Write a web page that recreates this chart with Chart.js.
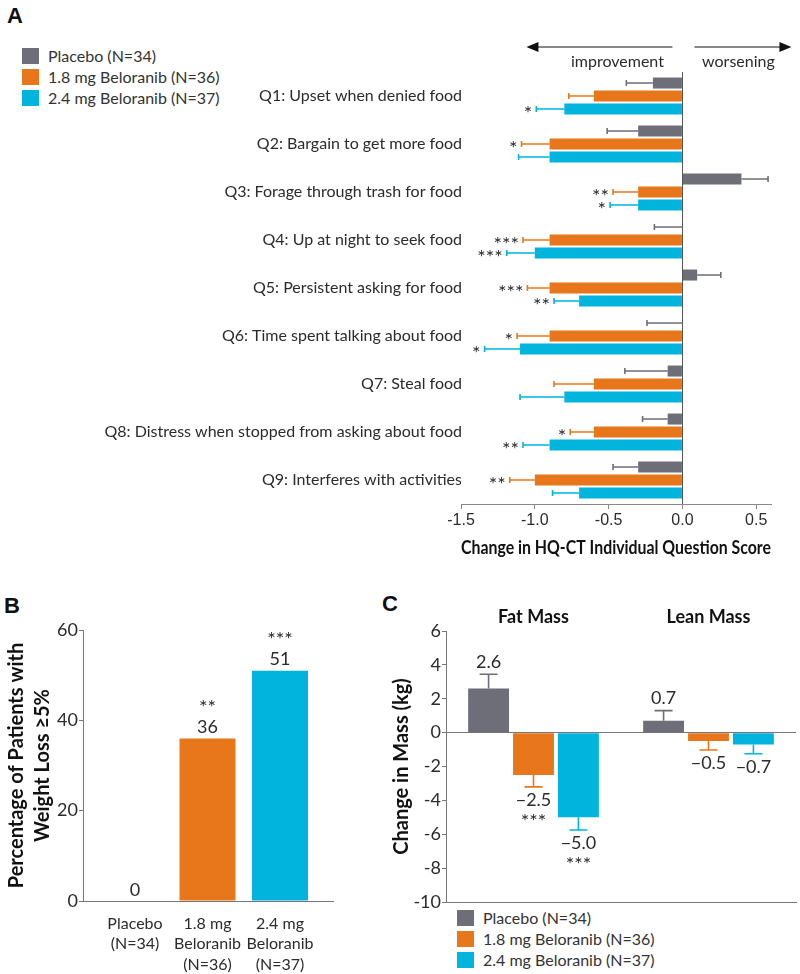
<!DOCTYPE html>
<html>
<head>
<meta charset="utf-8">
<script src="https://cdn.jsdelivr.net/npm/chart.js@4.4.0/dist/chart.umd.min.js"></script>
<style>
  body { margin: 0; background: #fff; font-family: Lato, sans-serif; color: #333; }
  #wrap { position: relative; width: 800px; height: 974px; overflow: hidden; }
  canvas { position: absolute; }
  .letter { position: absolute; font: bold 22px "Liberation Sans", Arial, sans-serif; color: #111; line-height: 22px; }
  .leg { position: absolute; font-size: 16px; color: #333; }
  .leg div { display: flex; align-items: center; height: 21px; }
  .leg span { display: inline-block; width: 17px; height: 16px; margin-right: 9px; }
</style>
</head>
<body>
<div id="wrap">
  <div class="letter" style="left:7px;top:5px">A</div>
  <div class="letter" style="left:4px;top:595px">B</div>
  <div class="letter" style="left:382px;top:593px">C</div>
  <div class="leg" id="legA" style="left:22px;top:45px"></div>
  <div class="leg" id="legC" style="left:457px;top:907px"></div>
  <canvas id="chartA" width="800" height="560" style="left:0;top:0"></canvas>
  <canvas id="chartB" width="370" height="414" style="left:0;top:560px"></canvas>
  <canvas id="chartC" width="430" height="414" style="left:370px;top:560px"></canvas>
</div>
<script>
// groups and colours
const groups = ['Placebo (N=34)', '1.8 mg Beloranib (N=36)', '2.4 mg Beloranib (N=37)'];
const colors = ['#6d6e77', '#e8771b', '#00b4de'];

// panel A - HQ-CT individual questions
const questions = [
  'Q1: Upset when denied food',
  'Q2: Bargain to get more food',
  'Q3: Forage through trash for food',
  'Q4: Up at night to seek food',
  'Q5: Persistent asking for food',
  'Q6: Time spent talking about food',
  'Q7: Steal food',
  'Q8: Distress when stopped from asking about food',
  'Q9: Interferes with activities'
];
const placeboQ = [-0.2, -0.3, 0.4, 0, 0.1, 0, -0.1, -0.1, -0.3];
const placeboQErr = [-0.38, -0.51, 0.58, -0.19, 0.26, -0.24, -0.39, -0.27, -0.47];
const placeboQStars = ['', '', '', '', '', '', '', '', ''];
const lowDoseQ = [-0.6, -0.9, -0.3, -0.9, -0.9, -0.9, -0.6, -0.6, -1.0];
const lowDoseQErr = [-0.77, -1.09, -0.47, -1.08, -1.05, -1.12, -0.87, -0.76, -1.17];
const lowDoseQStars = ['', '*', '**', '***', '***', '*', '', '*', '**'];
const highDoseQ = [-0.8, -0.9, -0.3, -1.0, -0.7, -1.1, -0.8, -0.9, -0.7];
const highDoseQErr = [-0.99, -1.11, -0.49, -1.19, -0.87, -1.34, -1.10, -1.08, -0.88];
const highDoseQStars = ['*', '', '*', '***', '**', '*', '', '**', ''];
const scoreTicks = [-1.5, -1.0, -0.5, 0, 0.5];

// panel B - weight loss >= 5%
const armLabels = [['Placebo', '(N=34)'], ['1.8 mg', 'Beloranib', '(N=36)'], ['2.4 mg', 'Beloranib', '(N=37)']];
const weightLossPct = [0, 36, 51];
const weightLossStars = ['', '**', '***'];
const pctTicks = [0, 20, 40, 60];

// panel C - fat and lean mass
const massTypes = ['Fat Mass', 'Lean Mass'];
const placeboMass = [2.6, 0.7];
const placeboMassErr = [3.45, 1.3];
const placeboMassStars = ['', ''];
const lowDoseMass = [-2.5, -0.5];
const lowDoseMassErr = [-3.2, -1.03];
const lowDoseMassStars = ['***', ''];
const highDoseMass = [-5.0, -0.7];
const highDoseMassErr = [-5.75, -1.25];
const highDoseMassStars = ['***', ''];
const massTicks = [6, 4, 2, 0, -2, -4, -6, -8, -10];

// legends
function legend(id) {
  document.getElementById(id).innerHTML = groups.map((g, i) =>
    '<div><span style="background:' + colors[i] + '"></span>' + g + '</div>').join('');
}
legend('legA');
legend('legC');

const txt = '#2b2b2b';
const fontTick = { family: 'Lato', size: 18 };
const starFont = '20px Lato';

// error bars plus value / star labels
const errorBars = {
  id: 'errorBars',
  afterDatasetsDraw(chart, args, opts) {
    const ctx = chart.ctx;
    const horiz = chart.options.indexAxis === 'y';
    const vScale = horiz ? chart.scales.x : chart.scales.y;
    chart.data.datasets.forEach((ds, di) => {
      if (!ds.errEnd) return;
      chart.getDatasetMeta(di).data.forEach((bar, i) => {
        const e = vScale.getPixelForValue(ds.errEnd[i]);
        ctx.save();
        ctx.strokeStyle = ds.backgroundColor;
        ctx.lineWidth = 1.6;
        ctx.beginPath();
        if (horiz) {
          ctx.moveTo(bar.x, bar.y); ctx.lineTo(e, bar.y);
          ctx.moveTo(e, bar.y - opts.cap); ctx.lineTo(e, bar.y + opts.cap);
        } else {
          ctx.moveTo(bar.x, bar.y); ctx.lineTo(bar.x, e);
          ctx.moveTo(bar.x - opts.cap, e); ctx.lineTo(bar.x + opts.cap, e);
        }
        ctx.stroke();
        ctx.fillStyle = txt;
        ctx.textBaseline = 'middle';
        const stars = ds.stars ? ds.stars[i] : '';
        if (horiz) {
          ctx.textAlign = 'right';
          ctx.font = starFont;
          if (stars) ctx.fillText(stars, e - 4, bar.y + 5);
        } else {
          const v = ds.data[i];
          const s = (v < 0 ? '\u2212' : '') + Math.abs(v).toFixed(1);
          ctx.textAlign = 'center';
          ctx.font = '18px Lato';
          if (v >= 0) {
            ctx.fillText(s, bar.x, e - 12);
          } else {
            ctx.fillText(s, bar.x, e + 13);
            ctx.font = starFont;
            if (stars) ctx.fillText(stars, bar.x, e + 35);
          }
        }
        ctx.restore();
      });
    });
  }
};

// improvement / worsening arrows
const arrows = {
  id: 'arrows',
  afterDraw(chart) {
    const ctx = chart.ctx;
    const z = chart.scales.x.getPixelForValue(0);
    const y = 47;
    ctx.save();
    ctx.strokeStyle = '#111';
    ctx.fillStyle = '#111';
    ctx.lineWidth = 1.2;
    ctx.beginPath();
    ctx.moveTo(z - 146, y); ctx.lineTo(z - 10, y);
    ctx.moveTo(z + 12, y); ctx.lineTo(z + 100, y);
    ctx.stroke();
    ctx.beginPath();
    ctx.moveTo(z - 156, y); ctx.lineTo(z - 144, y - 5); ctx.lineTo(z - 144, y + 5); ctx.closePath();
    ctx.moveTo(z + 109, y); ctx.lineTo(z + 97, y - 5); ctx.lineTo(z + 97, y + 5); ctx.closePath();
    ctx.fill();
    ctx.fillStyle = txt;
    ctx.font = '16px Lato';
    ctx.textAlign = 'center';
    ctx.textBaseline = 'middle';
    ctx.fillText('improvement', z - 65, y + 15);
    ctx.fillText('worsening', z + 56, y + 15);
    ctx.restore();
  }
};

// values above bars in B
const topLabels = {
  id: 'topLabels',
  afterDatasetsDraw(chart) {
    const ctx = chart.ctx;
    const ds = chart.data.datasets[0];
    chart.getDatasetMeta(0).data.forEach((bar, i) => {
      ctx.save();
      ctx.fillStyle = txt;
      ctx.font = '18px Lato';
      ctx.textAlign = 'center';
      ctx.textBaseline = 'middle';
      ctx.fillText(String(ds.data[i].y), bar.x, bar.y - 11);
      ctx.font = starFont;
      if (ds.stars[i]) ctx.fillText(ds.stars[i], bar.x, bar.y - 31);
      ctx.restore();
    });
  }
};

// Fat Mass / Lean Mass headings in C
const groupTitles = {
  id: 'groupTitles',
  afterDraw(chart) {
    const ctx = chart.ctx;
    const xs = chart.scales.x;
    ctx.save();
    ctx.fillStyle = '#111';
    ctx.font = 'bold 18px Lato';
    ctx.textAlign = 'center';
    ctx.textBaseline = 'middle';
    chart.data.labels.forEach((l, i) => ctx.fillText(l, xs.getPixelForValue(i), chart.chartArea.top - 14));
    ctx.restore();
  }
};

const noLegend = { legend: { display: false }, tooltip: { enabled: false } };

// Panel A
new Chart(document.getElementById('chartA'), {
  type: 'bar',
  data: {
    labels: questions,
    datasets: [
      { label: groups[0], data: placeboQ, errEnd: placeboQErr, stars: placeboQStars, backgroundColor: colors[0] },
      { label: groups[1], data: lowDoseQ, errEnd: lowDoseQErr, stars: lowDoseQStars, backgroundColor: colors[1] },
      { label: groups[2], data: highDoseQ, errEnd: highDoseQErr, stars: highDoseQStars, backgroundColor: colors[2] }
    ]
  },
  options: {
    indexAxis: 'y',
    responsive: false,
    animation: false,
    layout: { padding: { top: 72, right: 29, left: 0, bottom: 0 } },
    datasets: { bar: { categoryPercentage: 0.81, barPercentage: 0.85 } },
    plugins: Object.assign({ errorBars: { cap: 3 } }, noLegend),
    scales: {
      x: {
        type: 'linear', min: -1.5, max: 0.6,
        afterBuildTicks: s => { s.ticks = scoreTicks.map(v => ({ value: v })); },
        afterFit: s => { s.height = 56; },
        grid: { color: c => (c.tick && c.tick.value === 0 ? '#555' : 'rgba(0,0,0,0)'), tickColor: '#888', tickLength: 5 },
        border: { color: '#888' },
        ticks: { font: { family: 'Liberation Sans', size: 16 }, color: txt, padding: 2, callback: v => v.toFixed(1) },
        title: { display: true, text: 'Change in HQ-CT Individual Question Score', color: '#111',
          font: { family: 'Lato', size: 19, weight: 'bold' }, padding: { top: 0, bottom: 1 } }
      },
      y: {
        afterFit: s => { s.width = 461; },
        grid: { display: false, drawTicks: false },
        border: { display: false },
        ticks: { font: { family: 'Lato', size: 16 }, color: txt, padding: -1 }
      }
    }
  },
  plugins: [errorBars, arrows]
});

// Panel B
new Chart(document.getElementById('chartB'), {
  type: 'bar',
  data: {
    datasets: [{ data: weightLossPct.map((v, i) => ({ x: i, y: v })), stars: weightLossStars, backgroundColor: colors }]
  },
  options: {
    responsive: false,
    animation: false,
    layout: { padding: { top: 70, right: 37, left: 0, bottom: 0 } },
    datasets: { bar: { categoryPercentage: 1, barPercentage: 0.772 } },
    plugins: noLegend,
    scales: {
      x: {
        type: 'linear', offset: false, min: -0.717, max: 2.731,
        afterBuildTicks: s => { s.ticks = armLabels.map((l, i) => ({ value: i })); },
        afterFit: s => { s.height = 73; },
        grid: { display: false },
        border: { color: '#777' },
        ticks: { callback: v => armLabels[v], font: { family: 'Lato', size: 16, lineHeight: 1.3 }, color: txt, padding: 4 }
      },
      y: {
        min: 0, max: 60,
        afterBuildTicks: s => { s.ticks = pctTicks.map(v => ({ value: v })); },
        afterFit: s => { s.width = 83; },
        grid: { drawOnChartArea: false, color: '#777', tickLength: 4 },
        border: { color: '#777' },
        ticks: { font: fontTick, color: txt, padding: 1 },
        title: { display: true, text: ['Percentage of Patients with', 'Weight Loss \u22655%'], color: '#111',
          font: { family: 'Lato', size: 20, weight: 'bold', lineHeight: 1.3 }, padding: { top: 4, bottom: 0 } }
      }
    }
  },
  plugins: [topLabels]
});

// Panel C
new Chart(document.getElementById('chartC'), {
  type: 'bar',
  data: {
    labels: massTypes,
    datasets: [
      { label: groups[0], data: placeboMass, errEnd: placeboMassErr, stars: placeboMassStars, backgroundColor: colors[0] },
      { label: groups[1], data: lowDoseMass, errEnd: lowDoseMassErr, stars: lowDoseMassStars, backgroundColor: colors[1] },
      { label: groups[2], data: highDoseMass, errEnd: highDoseMassErr, stars: highDoseMassStars, backgroundColor: colors[2] }
    ]
  },
  options: {
    responsive: false,
    animation: false,
    layout: { padding: { top: 71, right: 4, left: 0, bottom: 0 } },
    datasets: { bar: { categoryPercentage: 0.77, barPercentage: 0.91 } },
    plugins: Object.assign({ errorBars: { cap: 9 } }, noLegend),
    scales: {
      x: {
        afterFit: s => { s.height = 72; },
        grid: { display: false },
        border: { color: '#777' },
        ticks: { display: false }
      },
      y: {
        min: -10, max: 6,
        afterBuildTicks: s => { s.ticks = massTicks.map(v => ({ value: v })); },
        afterFit: s => { s.width = 76; },
        grid: { color: c => (c.tick && c.tick.value === 0 ? '#777' : 'rgba(0,0,0,0)'), tickColor: '#777', tickLength: 4 },
        border: { color: '#777' },
        ticks: { font: fontTick, color: txt, padding: 1 },
        title: { display: true, text: 'Change in Mass (kg)', color: '#111',
          font: { family: 'Lato', size: 20, weight: 'bold' }, padding: { top: 20, bottom: 0 } }
      }
    }
  },
  plugins: [errorBars, groupTitles]
});
</script>
</body>
</html>
